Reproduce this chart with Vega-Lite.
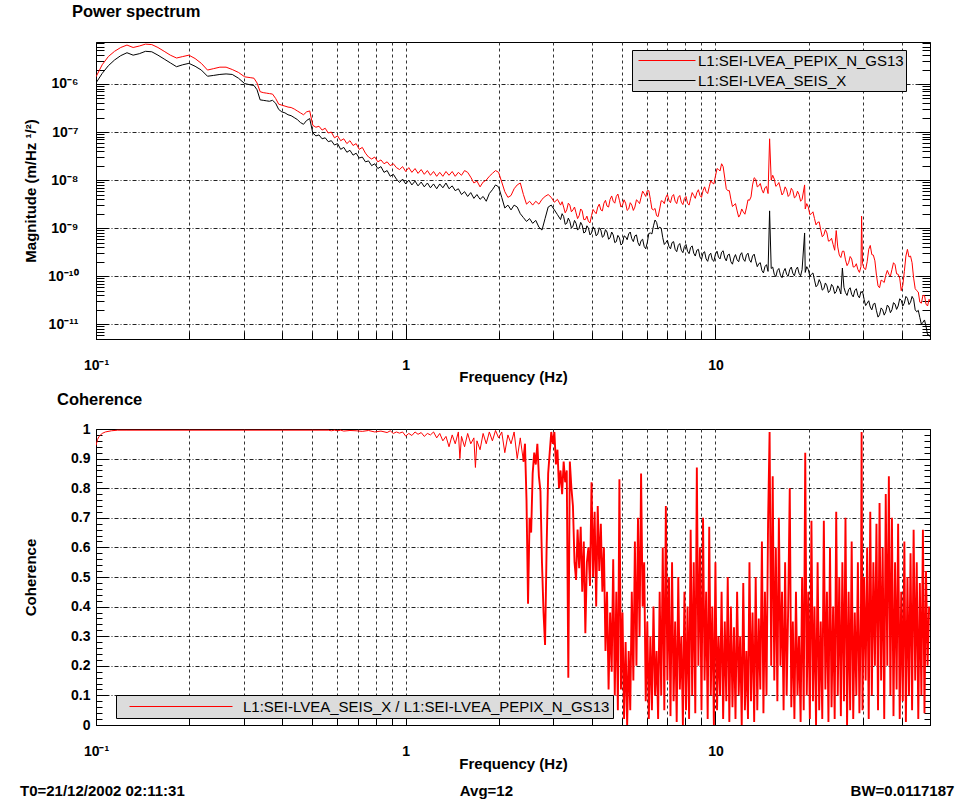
{
"$schema": "https://vega.github.io/schema/vega-lite/v6.json",
"background": "white",
"padding": {"left": 20, "top": 3, "right": 2, "bottom": 2},
"config": {
  "font": "Liberation Sans",
  "view": {"stroke": "#000000", "strokeWidth": 1},
  "axis": {"labelFont": "Liberation Sans", "labelFontSize": 14, "labelFontWeight": "bold", "labelColor": "#000000",
           "titleFont": "Liberation Sans", "titleFontSize": 15, "titleFontWeight": "bold", "titleColor": "#000000",
           "domainColor": "#000000", "domainWidth": 1, "tickColor": "#000000", "tickWidth": 1,
           "labelOverlap": false, "labelFlush": false, "labelBound": false, "zindex": 1},
  "legend": {"labelFont": "Liberation Sans", "labelFontSize": 15, "labelColor": "#000000", "labelLimit": 500,
             "fillColor": "#dcdcdc", "strokeColor": "#000000", "symbolStrokeWidth": 1},
  "title": {"font": "Liberation Sans", "fontWeight": "bold", "color": "#000000"}
},
"title": {"text": "T0=21/12/2002 02:11:31\u00a0\u00a0\u00a0\u00a0\u00a0\u00a0\u00a0\u00a0\u00a0\u00a0\u00a0\u00a0\u00a0\u00a0\u00a0\u00a0\u00a0\u00a0\u00a0\u00a0\u00a0\u00a0\u00a0\u00a0\u00a0\u00a0\u00a0\u00a0\u00a0\u00a0\u00a0\u00a0\u00a0\u00a0\u00a0\u00a0\u00a0\u00a0\u00a0\u00a0\u00a0\u00a0\u00a0\u00a0\u00a0\u00a0\u00a0\u00a0\u00a0\u00a0\u00a0\u00a0\u00a0\u00a0\u00a0\u00a0\u00a0\u00a0\u00a0\u00a0\u00a0\u00a0\u00a0\u00a0\u00a0\u00a0Avg=12\u00a0\u00a0\u00a0\u00a0\u00a0\u00a0\u00a0\u00a0\u00a0\u00a0\u00a0\u00a0\u00a0\u00a0\u00a0\u00a0\u00a0\u00a0\u00a0\u00a0\u00a0\u00a0\u00a0\u00a0\u00a0\u00a0\u00a0\u00a0\u00a0\u00a0\u00a0\u00a0\u00a0\u00a0\u00a0\u00a0\u00a0\u00a0\u00a0\u00a0\u00a0\u00a0\u00a0\u00a0\u00a0\u00a0\u00a0\u00a0\u00a0\u00a0\u00a0\u00a0\u00a0\u00a0\u00a0\u00a0\u00a0\u00a0\u00a0\u00a0\u00a0\u00a0\u00a0\u00a0\u00a0\u00a0\u00a0\u00a0\u00a0\u00a0\u00a0\u00a0\u00a0\u00a0\u00a0\u00a0\u00a0\u00a0\u00a0\u00a0\u00a0BW=0.0117187",
  "orient": "bottom", "anchor": "start", "frame": "group", "dx": -76, "offset": 24, "fontSize": 15, "baseline": "alphabetic"},
"spacing": 90,
"bounds": "flush",
"resolve": {"scale": {"color": "independent"}, "legend": {"color": "independent"}},
"vconcat": [
{
  "width": 834, "height": 297,
  "title": {"text": "Power spectrum", "anchor": "start", "frame": "group", "dx": -24, "offset": 2.7, "fontSize": 16.5, "baseline": "alphabetic"},
  "data": {"values": [
{"f":0.1,"b":1.05e-6,"r":1.41e-6},{"f":0.1047,"b":1.66e-6,"r":2.51e-6},{"f":0.1096,"b":2.40e-6,"r":3.72e-6},{"f":0.1148,"b":3.16e-6,"r":4.79e-6},
{"f":0.1202,"b":3.89e-6,"r":5.75e-6},{"f":0.1259,"b":4.47e-6,"r":6.46e-6},{"f":0.1318,"b":3.98e-6,"r":5.75e-6},{"f":0.138,"b":4.27e-6,"r":6.17e-6},
{"f":0.1445,"b":4.79e-6,"r":6.76e-6},{"f":0.1514,"b":4.68e-6,"r":6.61e-6},{"f":0.1585,"b":3.98e-6,"r":5.75e-6},{"f":0.166,"b":3.31e-6,"r":4.79e-6},
{"f":0.1738,"b":2.75e-6,"r":3.98e-6},{"f":0.182,"b":2.29e-6,"r":3.47e-6},{"f":0.1905,"b":2.51e-6,"r":3.72e-6},{"f":0.1995,"b":2.69e-6,"r":3.98e-6},
{"f":0.2089,"b":2.34e-6,"r":3.39e-6},{"f":0.2188,"b":1.95e-6,"r":2.69e-6},{"f":0.2291,"b":1.45e-6,"r":1.95e-6},{"f":0.2399,"b":1.51e-6,"r":2.09e-6},
{"f":0.2512,"b":1.58e-6,"r":2.24e-6},{"f":0.263,"b":1.62e-6,"r":2.24e-6},{"f":0.2754,"b":1.58e-6,"r":2.0e-6},{"f":0.2884,"b":1.32e-6,"r":1.74e-6},
{"f":0.302,"b":1.02e-6,"r":1.41e-6},{"f":0.3162,"b":9.55e-7,"r":1.35e-6},{"f":0.3236,"b":9.33e-7,"r":1.32e-6},{"f":0.3311,"b":7.59e-7,"r":1.05e-6},
{"f":0.3388,"b":4.68e-7,"r":6.92e-7},{"f":0.3467,"b":4.57e-7,"r":6.61e-7},{"f":0.3548,"b":4.47e-7,"r":6.46e-7},{"f":0.3631,"b":4.37e-7,"r":6.31e-7},
{"f":0.3715,"b":4.57e-7,"r":6.17e-7},{"f":0.3802,"b":3.98e-7,"r":5.01e-7},{"f":0.389,"b":2.95e-7,"r":3.80e-7},{"f":0.3981,"b":2.63e-7,"r":3.63e-7},
{"f":0.4074,"b":2.51e-7,"r":3.47e-7},{"f":0.4169,"b":2.29e-7,"r":3.31e-7},{"f":0.4266,"b":2.19e-7,"r":3.24e-7},{"f":0.4365,"b":2.0e-7,"r":3.02e-7},
{"f":0.4467,"b":1.82e-7,"r":2.75e-7},{"f":0.4571,"b":1.58e-7,"r":2.51e-7},{"f":0.4677,"b":1.45e-7,"r":2.29e-7},{"f":0.4786,"b":1.74e-7,"r":2.63e-7},
{"f":0.4898,"b":1.91e-7,"r":2.75e-7},{"f":0.5012,"b":9.55e-8,"r":1.38e-7},{"f":0.5129,"b":8.32e-8,"r":1.26e-7},{"f":0.5248,"b":8.71e-8,"r":1.32e-7},
{"f":0.537,"b":7.24e-8,"r":1.10e-7},{"f":0.5495,"b":7.59e-8,"r":1.20e-7},{"f":0.5623,"b":6.31e-8,"r":9.55e-8},{"f":0.5754,"b":6.61e-8,"r":1.0e-7},
{"f":0.5888,"b":5.37e-8,"r":7.59e-8},{"f":0.6026,"b":5.75e-8,"r":8.32e-8},{"f":0.6166,"b":4.37e-8,"r":6.61e-8},{"f":0.631,"b":4.79e-8,"r":7.24e-8},
{"f":0.6457,"b":3.80e-8,"r":5.75e-8},{"f":0.6607,"b":4.17e-8,"r":6.61e-8},{"f":0.6761,"b":3.31e-8,"r":5.25e-8},{"f":0.6918,"b":3.63e-8,"r":5.75e-8},
{"f":0.7079,"b":2.88e-8,"r":4.37e-8},{"f":0.7244,"b":3.02e-8,"r":4.79e-8},{"f":0.7413,"b":2.40e-8,"r":3.63e-8},{"f":0.7586,"b":2.51e-8,"r":3.02e-8},
{"f":0.7762,"b":2.0e-8,"r":2.75e-8},{"f":0.7943,"b":2.19e-8,"r":3.02e-8},{"f":0.8128,"b":1.74e-8,"r":2.40e-8},{"f":0.8318,"b":1.91e-8,"r":2.63e-8},
{"f":0.8511,"b":1.45e-8,"r":2.19e-8},{"f":0.871,"b":1.58e-8,"r":2.40e-8},{"f":0.8913,"b":1.20e-8,"r":2.0e-8},{"f":0.912,"b":1.32e-8,"r":2.19e-8},
{"f":0.9333,"b":1.05e-8,"r":1.82e-8},{"f":0.955,"b":8.91e-9,"r":1.66e-8},{"f":0.9772,"b":1.05e-8,"r":1.91e-8},{"f":1.0,"b":8.32e-9,"r":1.51e-8},
{"f":1.023,"b":1.0e-8,"r":1.82e-8},{"f":1.047,"b":7.94e-9,"r":1.45e-8},{"f":1.072,"b":9.55e-9,"r":1.74e-8},{"f":1.096,"b":7.59e-9,"r":1.38e-8},
{"f":1.122,"b":9.12e-9,"r":1.66e-8},{"f":1.148,"b":7.24e-9,"r":1.32e-8},{"f":1.175,"b":8.71e-9,"r":1.58e-8},{"f":1.202,"b":6.92e-9,"r":1.26e-8},
{"f":1.23,"b":8.32e-9,"r":1.51e-8},{"f":1.259,"b":6.61e-9,"r":1.20e-8},{"f":1.288,"b":8.32e-9,"r":1.45e-8},{"f":1.318,"b":6.92e-9,"r":1.20e-8},
{"f":1.349,"b":8.71e-9,"r":1.51e-8},{"f":1.38,"b":6.61e-9,"r":1.26e-8},{"f":1.413,"b":7.59e-9,"r":1.51e-8},{"f":1.445,"b":6.03e-9,"r":1.20e-8},
{"f":1.479,"b":6.61e-9,"r":1.45e-8},{"f":1.514,"b":5.01e-9,"r":1.26e-8},{"f":1.549,"b":5.75e-9,"r":1.58e-8},{"f":1.585,"b":4.57e-9,"r":1.45e-8},
{"f":1.622,"b":5.50e-9,"r":1.15e-8},{"f":1.66,"b":4.17e-9,"r":8.71e-9},{"f":1.698,"b":5.01e-9,"r":9.55e-9},{"f":1.738,"b":3.98e-9,"r":7.24e-9},
{"f":1.778,"b":4.57e-9,"r":9.12e-9},{"f":1.82,"b":3.63e-9,"r":1.0e-8},{"f":1.862,"b":5.25e-9,"r":1.20e-8},{"f":1.905,"b":6.31e-9,"r":1.38e-8},
{"f":1.95,"b":7.94e-9,"r":1.58e-8},{"f":1.995,"b":7.24e-9,"r":1.45e-8},{"f":2.042,"b":4.37e-9,"r":9.12e-9},{"f":2.089,"b":2.63e-9,"r":5.75e-9},
{"f":2.138,"b":3.02e-9,"r":4.37e-9},{"f":2.188,"b":2.40e-9,"r":4.79e-9},{"f":2.239,"b":3.02e-9,"r":6.61e-9},{"f":2.291,"b":2.75e-9,"r":7.94e-9},
{"f":2.344,"b":2.0e-9,"r":8.71e-9},{"f":2.399,"b":1.66e-9,"r":5.01e-9},{"f":2.455,"b":1.38e-9,"r":3.16e-9},{"f":2.512,"b":1.58e-9,"r":3.63e-9},
{"f":2.57,"b":1.26e-9,"r":3.02e-9},{"f":2.63,"b":1.45e-9,"r":3.63e-9},{"f":2.692,"b":1.05e-9,"r":3.16e-9},{"f":2.754,"b":9.12e-10,"r":3.98e-9},
{"f":2.818,"b":1.58e-9,"r":4.57e-9},{"f":2.884,"b":2.75e-9,"r":5.01e-9},{"f":2.951,"b":3.02e-9,"r":4.37e-9},{"f":3.02,"b":2.40e-9,"r":3.47e-9},
{"f":3.09,"b":1.91e-9,"r":3.98e-9},{"f":3.162,"b":1.51e-9,"r":3.02e-9},{"f":3.236,"b":1.74e-9,"r":2.75e-9},{"f":3.311,"b":1.26e-9,"r":2.40e-9},
{"f":3.388,"b":1.38e-9,"r":3.02e-9},{"f":3.467,"b":1.10e-9,"r":2.40e-9},{"f":3.548,"b":1.26e-9,"r":2.09e-9},{"f":3.631,"b":1.0e-9,"r":1.82e-9},
{"f":3.715,"b":1.15e-9,"r":2.29e-9},{"f":3.802,"b":8.32e-10,"r":1.51e-9},{"f":3.89,"b":1.0e-9,"r":1.38e-9},{"f":3.981,"b":7.94e-10,"r":1.82e-9},
{"f":4.074,"b":9.55e-10,"r":2.19e-9},{"f":4.169,"b":7.59e-10,"r":2.75e-9},{"f":4.266,"b":9.12e-10,"r":2.40e-9},{"f":4.365,"b":6.92e-10,"r":3.31e-9},
{"f":4.467,"b":8.32e-10,"r":2.88e-9},{"f":4.571,"b":6.31e-10,"r":3.98e-9},{"f":4.677,"b":7.24e-10,"r":3.63e-9},{"f":4.786,"b":5.25e-10,"r":4.57e-9},
{"f":4.898,"b":6.31e-10,"r":3.80e-9},{"f":5.012,"b":4.79e-10,"r":3.02e-9},{"f":5.129,"b":6.61e-10,"r":3.31e-9},{"f":5.248,"b":7.59e-10,"r":2.51e-9},
{"f":5.37,"b":6.03e-10,"r":3.02e-9},{"f":5.495,"b":6.92e-10,"r":2.75e-9},{"f":5.623,"b":5.01e-10,"r":3.63e-9},{"f":5.754,"b":5.50e-10,"r":4.37e-9},
{"f":5.888,"b":4.17e-10,"r":5.25e-9},{"f":6.026,"b":5.01e-10,"r":6.03e-9},{"f":6.166,"b":7.94e-10,"r":3.98e-9},{"f":6.31,"b":1.12e-9,"r":2.40e-9},
{"f":6.457,"b":1.32e-9,"r":1.82e-9},{"f":6.607,"b":1.05e-9,"r":2.51e-9},{"f":6.761,"b":6.31e-10,"r":3.63e-9},{"f":6.918,"b":5.01e-10,"r":4.37e-9},
{"f":7.079,"b":4.17e-10,"r":3.80e-9},{"f":7.244,"b":5.01e-10,"r":4.57e-9},{"f":7.413,"b":3.63e-10,"r":3.63e-9},{"f":7.586,"b":4.37e-10,"r":4.37e-9},
{"f":7.762,"b":3.47e-10,"r":3.47e-9},{"f":7.943,"b":4.17e-10,"r":4.17e-9},{"f":8.128,"b":3.31e-10,"r":3.31e-9},{"f":8.318,"b":3.98e-10,"r":4.17e-9},
{"f":8.511,"b":3.02e-10,"r":4.79e-9},{"f":8.71,"b":3.47e-10,"r":5.50e-9},{"f":8.913,"b":2.51e-10,"r":4.79e-9},{"f":9.12,"b":3.02e-10,"r":6.03e-9},
{"f":9.333,"b":2.29e-10,"r":5.75e-9},{"f":9.55,"b":2.75e-10,"r":7.24e-9},{"f":9.772,"b":2.19e-10,"r":8.71e-9},{"f":10.0,"b":2.88e-10,"r":1.20e-8},
{"f":10.23,"b":2.51e-10,"r":1.66e-8},{"f":10.47,"b":3.16e-10,"r":2.19e-8},{"f":10.72,"b":2.40e-10,"r":1.10e-8},{"f":10.96,"b":2.75e-10,"r":6.03e-9},
{"f":11.22,"b":2.0e-10,"r":3.98e-9},{"f":11.48,"b":2.40e-10,"r":3.02e-9},{"f":11.75,"b":2.19e-10,"r":2.29e-9},{"f":12.02,"b":2.75e-10,"r":1.91e-9},
{"f":12.3,"b":2.29e-10,"r":2.19e-9},{"f":12.59,"b":2.75e-10,"r":2.63e-9},{"f":12.88,"b":2.19e-10,"r":3.80e-9},{"f":13.18,"b":2.63e-10,"r":7.94e-9},
{"f":13.49,"b":2.09e-10,"r":1.05e-8},{"f":13.8,"b":1.82e-10,"r":7.59e-9},{"f":14.13,"b":1.32e-10,"r":6.31e-9},{"f":14.45,"b":1.58e-10,"r":6.92e-9},
{"f":14.79,"b":1.26e-10,"r":5.25e-9},{"f":14.96,"b":2.29e-9,"r":7.24e-8},{"f":15.14,"b":1.45e-10,"r":1.0e-8},{"f":15.49,"b":1.10e-10,"r":1.05e-8},
{"f":15.85,"b":1.32e-10,"r":7.94e-9},{"f":16.22,"b":1.05e-10,"r":6.61e-9},{"f":16.6,"b":1.26e-10,"r":5.50e-9},{"f":16.98,"b":1.10e-10,"r":6.31e-9},
{"f":17.38,"b":1.38e-10,"r":5.01e-9},{"f":17.78,"b":1.15e-10,"r":6.03e-9},{"f":18.2,"b":1.38e-10,"r":4.57e-9},{"f":18.62,"b":1.15e-10,"r":5.01e-9},
{"f":19.05,"b":1.38e-10,"r":3.98e-9},{"f":19.41,"b":7.94e-10,"r":7.94e-9},{"f":19.5,"b":1.20e-10,"r":2.51e-9},{"f":19.95,"b":1.38e-10,"r":2.75e-9},
{"f":20.42,"b":1.10e-10,"r":2.0e-9},{"f":20.89,"b":8.32e-11,"r":1.58e-9},{"f":21.38,"b":6.61e-11,"r":1.32e-9},{"f":21.88,"b":7.24e-11,"r":9.12e-10},
{"f":22.39,"b":5.50e-11,"r":7.24e-10},{"f":22.91,"b":6.31e-11,"r":7.94e-10},{"f":23.44,"b":5.01e-11,"r":5.50e-10},{"f":23.99,"b":6.03e-11,"r":4.57e-10},
{"f":24.55,"b":4.79e-11,"r":8.91e-10},{"f":25.12,"b":5.50e-11,"r":2.75e-10},{"f":25.7,"b":1.48e-10,"r":3.31e-10},{"f":26.3,"b":4.57e-11,"r":2.19e-10},
{"f":26.92,"b":5.25e-11,"r":1.91e-10},{"f":27.54,"b":4.17e-11,"r":2.29e-10},{"f":28.18,"b":5.01e-11,"r":1.58e-10},{"f":28.84,"b":3.98e-11,"r":1.38e-10},
{"f":29.51,"b":4.79e-11,"r":1.58e-10},{"f":29.65,"b":4.57e-11,"r":1.78e-9},{"f":30.2,"b":3.31e-11,"r":1.45e-10},{"f":30.9,"b":2.75e-11,"r":2.0e-10},
{"f":31.62,"b":2.29e-11,"r":4.37e-10},{"f":32.36,"b":2.63e-11,"r":2.75e-10},{"f":33.11,"b":1.91e-11,"r":1.05e-10},{"f":33.88,"b":1.58e-11,"r":5.75e-11},
{"f":34.67,"b":2.0e-11,"r":7.94e-11},{"f":35.48,"b":1.82e-11,"r":1.05e-10},{"f":36.31,"b":2.29e-11,"r":1.10e-10},{"f":37.15,"b":2.0e-11,"r":1.38e-10},
{"f":38.02,"b":2.63e-11,"r":1.74e-10},{"f":38.9,"b":2.40e-11,"r":1.10e-10},{"f":39.81,"b":3.16e-11,"r":5.01e-11},{"f":40.74,"b":2.75e-11,"r":1.26e-10},
{"f":41.69,"b":3.47e-11,"r":3.63e-10},{"f":42.66,"b":2.88e-11,"r":2.63e-10},{"f":43.65,"b":3.31e-11,"r":9.12e-11},{"f":44.67,"b":1.82e-11,"r":5.01e-11},
{"f":45.71,"b":1.38e-11,"r":2.88e-11},{"f":46.77,"b":1.10e-11,"r":3.98e-11},{"f":47.86,"b":9.12e-12,"r":2.63e-11},{"f":48.98,"b":6.03e-12,"r":3.31e-11},
{"f":49.3,"b":5.5e-12,"r":3.0e-11},
{"f":3.199,"b":2.00e-9,"r":3.55e-9},{"f":3.273,"b":1.20e-9,"r":2.09e-9},{"f":3.35,"b":1.62e-9,"r":3.31e-9},{"f":3.428,"b":1.00e-9,"r":2.19e-9},
{"f":3.508,"b":1.45e-9,"r":2.75e-9},{"f":3.589,"b":9.12e-10,"r":1.58e-9},{"f":3.673,"b":1.32e-9,"r":2.51e-9},{"f":3.758,"b":7.94e-10,"r":1.51e-9},
{"f":3.846,"b":1.12e-9,"r":1.78e-9},{"f":3.936,"b":7.24e-10,"r":1.29e-9},{"f":4.027,"b":1.07e-9,"r":2.45e-9},{"f":4.121,"b":6.92e-10,"r":2.00e-9},
{"f":4.217,"b":1.02e-9,"r":3.16e-9},{"f":4.315,"b":6.46e-10,"r":2.29e-9},{"f":4.416,"b":9.33e-10,"r":3.80e-9},{"f":4.519,"b":5.89e-10,"r":2.75e-9},
{"f":4.624,"b":8.32e-10,"r":4.68e-9},{"f":4.732,"b":5.01e-10,"r":3.31e-9},{"f":4.842,"b":7.08e-10,"r":5.13e-9},{"f":4.955,"b":4.47e-10,"r":2.75e-9},
{"f":5.07,"b":6.92e-10,"r":3.89e-9},{"f":5.188,"b":5.75e-10,"r":2.34e-9},{"f":5.309,"b":8.32e-10,"r":3.39e-9},{"f":5.433,"b":5.25e-10,"r":2.34e-9},
{"f":5.559,"b":7.24e-10,"r":3.89e-9},{"f":5.689,"b":4.27e-10,"r":3.24e-9},{"f":5.821,"b":5.89e-10,"r":5.89e-9},{"f":5.957,"b":3.72e-10,"r":4.57e-9},
{"f":6.095,"b":7.76e-10,"r":6.03e-9},{"f":6.237,"b":7.59e-10,"r":2.51e-9},{"f":6.383,"b":1.48e-9,"r":2.57e-9},{"f":6.531,"b":9.55e-10,"r":1.74e-9},
{"f":6.683,"b":1.00e-9,"r":3.72e-9},{"f":6.839,"b":4.57e-10,"r":3.24e-9},{"f":6.998,"b":5.62e-10,"r":5.01e-9},{"f":7.161,"b":3.72e-10,"r":3.39e-9},
{"f":7.328,"b":5.25e-10,"r":5.01e-9},{"f":7.499,"b":3.24e-10,"r":3.24e-9},{"f":7.674,"b":4.79e-10,"r":4.79e-9},{"f":7.852,"b":3.09e-10,"r":3.09e-9},
{"f":8.035,"b":4.57e-10,"r":4.57e-9},{"f":8.222,"b":2.95e-10,"r":3.02e-9},{"f":8.414,"b":4.27e-10,"r":5.50e-9},{"f":8.61,"b":2.63e-10,"r":4.17e-9},
{"f":8.81,"b":3.63e-10,"r":6.31e-9},{"f":9.016,"b":2.24e-10,"r":4.37e-9},{"f":9.226,"b":3.24e-10,"r":7.24e-9},{"f":9.441,"b":2.04e-10,"r":5.25e-9},
{"f":9.661,"b":3.02e-10,"r":9.77e-9},{"f":9.886,"b":2.04e-10,"r":8.32e-9},{"f":10.12,"b":3.31e-10,"r":1.74e-8},{"f":10.35,"b":2.29e-10,"r":1.55e-8},
{"f":10.59,"b":3.39e-10,"r":1.91e-8},{"f":10.84,"b":2.09e-10,"r":6.61e-9},{"f":11.09,"b":2.88e-10,"r":6.03e-9},{"f":11.35,"b":1.78e-10,"r":2.82e-9},
{"f":11.61,"b":2.82e-10,"r":3.24e-9},{"f":11.89,"b":2.00e-10,"r":1.70e-9},{"f":12.16,"b":3.09e-10,"r":2.51e-9},{"f":12.45,"b":2.04e-10,"r":1.95e-9},
{"f":12.74,"b":3.02e-10,"r":3.89e-9},{"f":13.03,"b":1.95e-10,"r":4.47e-9},{"f":13.34,"b":2.88e-10,"r":1.12e-8},{"f":13.65,"b":1.58e-10,"r":7.24e-9},
{"f":13.96,"b":1.91e-10,"r":8.51e-9},{"f":14.29,"b":1.17e-10,"r":5.37e-9},{"f":14.62,"b":1.74e-10,"r":7.41e-9},{"f":15.31,"b":1.55e-10,"r":1.26e-8},
{"f":15.67,"b":9.77e-11,"r":7.41e-9},{"f":16.03,"b":1.45e-10,"r":8.91e-9},{"f":16.41,"b":9.33e-11,"r":4.90e-9},{"f":16.79,"b":1.45e-10,"r":7.24e-9},
{"f":17.18,"b":1.00e-10,"r":4.57e-9},{"f":17.58,"b":1.55e-10,"r":6.76e-9},{"f":17.99,"b":1.02e-10,"r":4.27e-9},{"f":18.41,"b":1.55e-10,"r":5.89e-9},
{"f":18.84,"b":1.02e-10,"r":3.63e-9},{"f":19.72,"b":1.58e-10,"r":3.24e-9},{"f":20.18,"b":1.00e-10,"r":1.91e-9},{"f":20.65,"b":1.17e-10,"r":2.19e-9},
{"f":21.13,"b":6.03e-11,"r":1.17e-9},{"f":21.63,"b":8.51e-11,"r":1.35e-9},{"f":22.13,"b":5.13e-11,"r":6.61e-10},{"f":22.65,"b":7.24e-11,"r":9.33e-10},
{"f":23.17,"b":4.57e-11,"r":5.37e-10},{"f":23.71,"b":6.76e-11,"r":6.17e-10},{"f":24.27,"b":4.37e-11,"r":3.47e-10},{"f":24.83,"b":6.31e-11,"r":4.07e-10},
{"f":25.41,"b":4.27e-11,"r":2.45e-10},{"f":26.0,"b":5.89e-11,"r":3.31e-10},{"f":26.61,"b":3.98e-11,"r":1.66e-10},{"f":27.23,"b":5.75e-11,"r":2.57e-10},
{"f":27.86,"b":3.72e-11,"r":1.55e-10},{"f":28.51,"b":5.50e-11,"r":1.82e-10},{"f":29.17,"b":3.55e-11,"r":1.20e-10},{"f":29.85,"b":4.90e-11,"r":1.86e-10},
{"f":30.55,"b":2.45e-11,"r":1.38e-10},{"f":31.26,"b":3.09e-11,"r":3.63e-10},{"f":31.99,"b":2.00e-11,"r":2.82e-10},{"f":32.73,"b":2.75e-11,"r":2.09e-10},
{"f":33.5,"b":1.41e-11,"r":6.31e-11},{"f":34.28,"b":2.19e-11,"r":8.32e-11},{"f":35.08,"b":1.55e-11,"r":7.41e-11},{"f":35.89,"b":2.51e-11,"r":1.32e-10},
{"f":36.73,"b":1.74e-11,"r":1.00e-10},{"f":37.58,"b":2.82e-11,"r":1.91e-10},{"f":38.46,"b":2.04e-11,"r":1.12e-10},{"f":39.36,"b":3.39e-11,"r":9.12e-11},
{"f":40.27,"b":2.40e-11,"r":6.46e-11},{"f":41.21,"b":3.80e-11,"r":2.63e-10},{"f":42.17,"b":2.57e-11,"r":2.51e-10},{"f":43.15,"b":3.80e-11,"r":1.91e-10},
{"f":44.16,"b":2.00e-11,"r":5.50e-11},{"f":45.19,"b":1.95e-11,"r":4.68e-11},{"f":46.24,"b":1.00e-11,"r":2.75e-11},{"f":47.32,"b":1.23e-11,"r":3.98e-11},
{"f":48.42,"b":6.03e-12,"r":2.40e-11}
  ]},
  "transform": [{"fold": ["r", "b"], "as": ["s", "v"]}],
  "encoding": {
    "x": {"field": "f", "type": "quantitative", "scale": {"type": "log", "domain": [0.1, 49.3], "nice": false},
      "axis": {"title": "Frequency (Hz)", "titleY": 30.5, "values": [0.1,0.2,0.3,0.4,0.5,0.6,0.7,0.8,0.9,1,2,3,4,5,6,7,8,9,10,20,30,40],
        "labelExpr": "datum.value==0.1?'10⁻¹':datum.value==1?'1':datum.value==10?'10':''",
        "tickSize": {"condition": {"test": "datum.value==0.1||datum.value==1||datum.value==10", "value": -14}, "value": -7},
        "labelPadding": 33.6, "grid": true, "gridDash": [3,3], "gridColor": "#333333"}}
  },
  "layer": [
    {"mark": {"type": "line", "strokeWidth": 1, "clip": true},
     "encoding": {
       "y": {"field": "v", "type": "quantitative", "scale": {"type": "log", "domain": [4.94e-12, 7.48e-6], "nice": false},
         "axis": {"orient": "left", "title": "Magnitude (m/Hz ¹/²)", "titleX": -58,
           "values": [5e-12,6e-12,7e-12,8e-12,9e-12,1e-11,2e-11,3e-11,4e-11,5e-11,6e-11,7e-11,8e-11,9e-11,1e-10,2e-10,3e-10,4e-10,5e-10,6e-10,7e-10,8e-10,9e-10,1e-9,2e-9,3e-9,4e-9,5e-9,6e-9,7e-9,8e-9,9e-9,1e-8,2e-8,3e-8,4e-8,5e-8,6e-8,7e-8,8e-8,9e-8,1e-7,2e-7,3e-7,4e-7,5e-7,6e-7,7e-7,8e-7,9e-7,1e-6,2e-6,3e-6,4e-6,5e-6,6e-6,7e-6],
           "labelExpr": "abs(log(datum.value)/LN10+6)<0.01?'10⁻⁶':abs(log(datum.value)/LN10+7)<0.01?'10⁻⁷':abs(log(datum.value)/LN10+8)<0.01?'10⁻⁸':abs(log(datum.value)/LN10+9)<0.01?'10⁻⁹':abs(log(datum.value)/LN10+10)<0.01?'10⁻¹⁰':abs(log(datum.value)/LN10+11)<0.01?'10⁻¹¹':''",
           "tickSize": {"condition": {"test": "abs(log(datum.value)/LN10-round(log(datum.value)/LN10))<0.01", "value": -12}, "value": -8},
           "labelPadding": 30, "grid": true, "gridDash": [4,2,1,2], "gridColor": "#222222",
           "gridOpacity": {"condition": {"test": "abs(log(datum.value)/LN10-round(log(datum.value)/LN10))<0.01", "value": 1}, "value": 0}}},
       "color": {"field": "s", "type": "nominal",
         "scale": {"domain": ["r", "b"], "range": ["#ff0000", "#000000"]},
         "legend": {"title": null, "orient": "none", "legendX": 536, "legendY": 8, "padding": 2, "symbolType": "stroke", "symbolSize": 3249,
           "symbolOffset": 4, "labelOffset": 2, "rowPadding": 3, "clipHeight": 17,
           "labelExpr": "datum.value == 'r' ? 'L1:SEI-LVEA_PEPIX_N_GS13' : 'L1:SEI-LVEA_SEIS_X'"}}
     }},
    {"mark": {"type": "rule", "opacity": 0},
     "encoding": {
       "y": {"field": "v", "type": "quantitative",
         "axis": {"orient": "right", "title": null, "labels": false, "grid": false,
           "values": [5e-12,6e-12,7e-12,8e-12,9e-12,1e-11,2e-11,3e-11,4e-11,5e-11,6e-11,7e-11,8e-11,9e-11,1e-10,2e-10,3e-10,4e-10,5e-10,6e-10,7e-10,8e-10,9e-10,1e-9,2e-9,3e-9,4e-9,5e-9,6e-9,7e-9,8e-9,9e-9,1e-8,2e-8,3e-8,4e-8,5e-8,6e-8,7e-8,8e-8,9e-8,1e-7,2e-7,3e-7,4e-7,5e-7,6e-7,7e-7,8e-7,9e-7,1e-6,2e-6,3e-6,4e-6,5e-6,6e-6,7e-6],
           "tickSize": {"condition": {"test": "abs(log(datum.value)/LN10-round(log(datum.value)/LN10))<0.01", "value": -12}, "value": -8}}}
     }}
  ]
},
{
  "width": 834, "height": 296,
  "title": {"text": "Coherence", "anchor": "start", "frame": "group", "dx": -39, "offset": 1, "fontSize": 16.5, "baseline": "alphabetic"},
  "data": {"values": [
{"f":0.1,"c":0.944},{"f":0.1012,"c":0.965},{"f":0.1023,"c":0.975},{"f":0.1047,"c":0.985},{"f":0.1072,"c":0.99},{"f":0.1122,"c":0.994},{"f":0.1175,"c":0.996},{"f":0.1259,"c":0.996},
{"f":0.5623,"c":0.996},{"f":0.5754,"c":0.994},{"f":0.5888,"c":0.996},{"f":0.6026,"c":0.994},{"f":0.6166,"c":0.996},{"f":0.631,"c":0.993},{"f":0.6607,"c":0.995},{"f":0.6918,"c":0.994},
{"f":0.7244,"c":0.992},{"f":0.7586,"c":0.995},{"f":0.7943,"c":0.99},{"f":0.8318,"c":0.993},{"f":0.871,"c":0.988},{"f":0.8913,"c":0.994},{"f":0.912,"c":0.985},{"f":0.9333,"c":0.99},
{"f":0.955,"c":0.986},{"f":0.9772,"c":0.99},{"f":1.0,"c":0.976},{"f":1.023,"c":0.985},{"f":1.047,"c":0.978},{"f":1.072,"c":0.99},{"f":1.096,"c":0.982},{"f":1.122,"c":0.988},
{"f":1.148,"c":0.975},{"f":1.175,"c":0.985},{"f":1.202,"c":0.98},{"f":1.23,"c":0.99},{"f":1.259,"c":0.97},{"f":1.288,"c":0.985},{"f":1.318,"c":0.96},{"f":1.349,"c":0.975},
{"f":1.38,"c":0.94},{"f":1.413,"c":0.98},{"f":1.445,"c":0.95},{"f":1.479,"c":0.99},{"f":1.496,"c":0.90},{"f":1.514,"c":0.975},{"f":1.549,"c":0.94},{"f":1.585,"c":0.985},
{"f":1.622,"c":0.95},{"f":1.66,"c":0.97},{"f":1.679,"c":0.87},{"f":1.698,"c":0.96},{"f":1.738,"c":0.93},{"f":1.778,"c":0.985},{"f":1.82,"c":0.95},{"f":1.862,"c":0.99},
{"f":1.905,"c":0.96},{"f":1.95,"c":0.995},{"f":1.995,"c":0.97},{"f":2.042,"c":0.99},{"f":2.089,"c":0.92},{"f":2.138,"c":0.98},{"f":2.188,"c":0.95},{"f":2.239,"c":0.99},
{"f":2.291,"c":0.9},{"f":2.344,"c":0.97},{"f":2.399,"c":0.89},
{"f":2.427,"c":0.95},{"f":2.455,"c":0.76},{"f":2.483,"c":0.41},{"f":2.512,"c":0.70},{"f":2.541,"c":0.65},{"f":2.57,"c":0.85},{"f":2.6,"c":0.92},{"f":2.63,"c":0.88},
{"f":2.661,"c":0.95},{"f":2.692,"c":0.84},{"f":2.723,"c":0.79},{"f":2.754,"c":0.55},{"f":2.786,"c":0.38},{"f":2.818,"c":0.27},{"f":2.851,"c":0.60},{"f":2.884,"c":0.85},
{"f":2.917,"c":0.92},{"f":2.951,"c":0.99},{"f":2.985,"c":0.95},{"f":3.02,"c":0.99},{"f":3.055,"c":0.88},{"f":3.09,"c":0.93},{"f":3.126,"c":0.80},{"f":3.162,"c":0.86},
{"f":3.199,"c":0.78},{"f":3.236,"c":0.89},{"f":3.273,"c":0.82},{"f":3.311,"c":0.86},{"f":3.35,"c":0.16},{"f":3.388,"c":0.89},{"f":3.428,"c":0.80},{"f":3.467,"c":0.74},
{"f":3.508,"c":0.55},{"f":3.548,"c":0.49},{"f":3.589,"c":0.66},{"f":3.631,"c":0.53},{"f":3.673,"c":0.67},{"f":3.715,"c":0.45},{"f":3.758,"c":0.62},{"f":3.802,"c":0.31},
{"f":3.846,"c":0.55},{"f":3.89,"c":0.60},{"f":3.936,"c":0.47},{"f":3.981,"c":0.82},{"f":4.027,"c":0.50},{"f":4.074,"c":0.72},{"f":4.121,"c":0.40},{"f":4.169,"c":0.74},
{"f":4.217,"c":0.52},{"f":4.266,"c":0.68},{"f":4.315,"c":0.45},{"f":4.365,"c":0.60},{"f":4.416,"c":0.25},{"f":4.467,"c":0.45},{"f":4.519,"c":0.12},{"f":4.571,"c":0.38},
{"f":4.624,"c":0.18},{"f":4.677,"c":0.56},{"f":4.732,"c":0.10},{"f":4.786,"c":0.45},{"f":4.842,"c":0.05},{"f":4.898,"c":0.83},{"f":4.955,"c":0.12},{"f":5.012,"c":0.38},
{"f":5.07,"c":0.02},{"f":5.129,"c":0.28},{"f":5.188,"c":0.0},{"f":5.248,"c":0.25},{"f":5.309,"c":0.05},{"f":5.37,"c":0.45},{"f":5.433,"c":0.15},{"f":5.495,"c":0.62},
{"f":5.559,"c":0.20},{"f":5.623,"c":0.70},{"f":5.689,"c":0.30},{"f":5.754,"c":0.85},{"f":5.821,"c":0.40},{"f":5.888,"c":0.55},{"f":5.957,"c":0.08},{"f":6.026,"c":0.35},
{"f":6.095,"c":0.02},{"f":6.166,"c":0.30},{"f":6.237,"c":0.05},{"f":6.31,"c":0.40},{"f":6.383,"c":0.10},{"f":6.457,"c":0.25},{"f":6.531,"c":0.02},{"f":6.607,"c":0.45},
{"f":6.683,"c":0.10},{"f":6.761,"c":0.60},{"f":6.839,"c":0.05},{"f":6.918,"c":0.74},{"f":6.998,"c":0.15},{"f":7.079,"c":0.50},{"f":7.161,"c":0.03},{"f":7.244,"c":0.55},
{"f":7.328,"c":0.08},{"f":7.413,"c":0.35},{"f":7.499,"c":0.01},{"f":7.586,"c":0.50},{"f":7.674,"c":0.12},{"f":7.762,"c":0.30},{"f":7.852,"c":0.0},{"f":7.943,"c":0.45},
{"f":8.035,"c":0.05},{"f":8.128,"c":0.40},{"f":8.222,"c":0.02},{"f":8.318,"c":0.66},{"f":8.414,"c":0.10},{"f":8.511,"c":0.55},{"f":8.61,"c":0.04},{"f":8.71,"c":0.87},
{"f":8.81,"c":0.20},{"f":8.913,"c":0.60},{"f":9.016,"c":0.05},{"f":9.12,"c":0.70},{"f":9.226,"c":0.15},{"f":9.333,"c":0.45},{"f":9.441,"c":0.02},{"f":9.55,"c":0.67},
{"f":9.661,"c":0.10},{"f":9.772,"c":0.40},{"f":9.886,"c":0.0},{"f":10.0,"c":0.55},{"f":10.12,"c":0.05},{"f":10.23,"c":0.30},{"f":10.35,"c":0.10},{"f":10.47,"c":0.45},
{"f":10.59,"c":0.02},{"f":10.72,"c":0.35},{"f":10.84,"c":0.08},{"f":10.96,"c":0.50},{"f":11.09,"c":0.01},{"f":11.22,"c":0.40},{"f":11.35,"c":0.06},{"f":11.48,"c":0.33},
{"f":11.61,"c":0.02},{"f":11.75,"c":0.45},{"f":11.89,"c":0.10},{"f":12.02,"c":0.30},{"f":12.16,"c":0.0},{"f":12.3,"c":0.48},{"f":12.45,"c":0.05},{"f":12.59,"c":0.25},
{"f":12.74,"c":0.02},{"f":12.88,"c":0.55},{"f":13.03,"c":0.08},{"f":13.18,"c":0.38},{"f":13.34,"c":0.01},{"f":13.49,"c":0.50},{"f":13.65,"c":0.05},{"f":13.8,"c":0.36},
{"f":13.96,"c":0.12},{"f":14.13,"c":0.62},{"f":14.29,"c":0.04},{"f":14.45,"c":0.45},{"f":14.62,"c":0.10},{"f":14.79,"c":0.68},{"f":14.96,"c":0.99},{"f":15.14,"c":0.20},
{"f":15.31,"c":0.84},{"f":15.49,"c":0.15},{"f":15.67,"c":0.60},{"f":15.85,"c":0.08},{"f":16.03,"c":0.70},{"f":16.22,"c":0.20},{"f":16.41,"c":0.45},{"f":16.6,"c":0.05},
{"f":16.79,"c":0.55},{"f":16.98,"c":0.10},{"f":17.18,"c":0.40},{"f":17.38,"c":0.80},{"f":17.58,"c":0.06},{"f":17.78,"c":0.35},{"f":17.99,"c":0.02},{"f":18.2,"c":0.45},
{"f":18.41,"c":0.10},{"f":18.62,"c":0.30},{"f":18.84,"c":0.01},{"f":19.05,"c":0.50},{"f":19.28,"c":0.05},{"f":19.5,"c":0.92},{"f":19.72,"c":0.10},{"f":19.95,"c":0.45},
{"f":20.18,"c":0.02},{"f":20.42,"c":0.69},{"f":20.65,"c":0.08},{"f":20.89,"c":0.40},{"f":21.13,"c":0.0},{"f":21.38,"c":0.55},{"f":21.63,"c":0.05},{"f":21.88,"c":0.35},
{"f":22.13,"c":0.02},{"f":22.39,"c":0.69},{"f":22.65,"c":0.12},{"f":22.91,"c":0.45},{"f":23.17,"c":0.01},{"f":23.44,"c":0.60},{"f":23.71,"c":0.06},{"f":23.99,"c":0.40},
{"f":24.27,"c":0.02},{"f":24.55,"c":0.72},{"f":24.83,"c":0.10},{"f":25.12,"c":0.50},{"f":25.41,"c":0.03},{"f":25.7,"c":0.55},{"f":26.0,"c":0.08},{"f":26.3,"c":0.70},
{"f":26.61,"c":0.0},{"f":26.92,"c":0.45},{"f":27.23,"c":0.05},{"f":27.54,"c":0.62},{"f":27.86,"c":0.02},{"f":28.18,"c":0.38},{"f":28.51,"c":0.10},{"f":28.84,"c":0.55},
{"f":29.17,"c":0.04},{"f":29.51,"c":0.40},{"f":29.65,"c":0.99},{"f":29.85,"c":0.05},{"f":30.2,"c":0.50},{"f":30.55,"c":0.15},{"f":30.9,"c":0.60},{"f":31.26,"c":0.02},
{"f":31.62,"c":0.72},{"f":31.99,"c":0.10},{"f":32.36,"c":0.55},{"f":32.73,"c":0.20},{"f":33.11,"c":0.68},{"f":33.5,"c":0.05},{"f":33.88,"c":0.75},{"f":34.28,"c":0.15},
{"f":34.67,"c":0.60},{"f":35.08,"c":0.02},{"f":35.48,"c":0.78},{"f":35.89,"c":0.20},{"f":36.31,"c":0.84},{"f":36.73,"c":0.10},{"f":37.15,"c":0.70},{"f":37.58,"c":0.03},
{"f":38.02,"c":0.55},{"f":38.46,"c":0.12},{"f":38.9,"c":0.68},{"f":39.36,"c":0.02},{"f":39.81,"c":0.45},{"f":40.27,"c":0.08},{"f":40.74,"c":0.62},{"f":41.21,"c":0.01},
{"f":41.69,"c":0.50},{"f":42.17,"c":0.10},{"f":42.66,"c":0.58},{"f":43.15,"c":0.05},{"f":43.65,"c":0.66},{"f":44.16,"c":0.15},{"f":44.67,"c":0.55},{"f":45.19,"c":0.02},
{"f":45.71,"c":0.48},{"f":46.24,"c":0.10},{"f":46.77,"c":0.66},{"f":47.32,"c":0.04},{"f":47.86,"c":0.52},{"f":48.42,"c":0.20},{"f":48.98,"c":0.40}
  ]},
  "encoding": {
    "x": {"field": "f", "type": "quantitative", "scale": {"type": "log", "domain": [0.1, 49.3], "nice": false},
      "axis": {"title": "Frequency (Hz)", "titleY": 31.5, "values": [0.1,0.2,0.3,0.4,0.5,0.6,0.7,0.8,0.9,1,2,3,4,5,6,7,8,9,10,20,30,40],
        "labelExpr": "datum.value==0.1?'10⁻¹':datum.value==1?'1':datum.value==10?'10':''",
        "tickSize": {"condition": {"test": "datum.value==0.1||datum.value==1||datum.value==10", "value": -14}, "value": -7},
        "labelPadding": 33, "grid": true, "gridDash": [3,3], "gridColor": "#333333"}}
  },
  "layer": [
    {"transform": [{"filter": "datum.f <= 2.43"}],
     "mark": {"type": "line", "strokeWidth": 1, "clip": true},
     "encoding": {
       "y": {"field": "c", "type": "quantitative", "scale": {"domain": [0, 1], "nice": false, "zero": false},
         "axis": {"orient": "left", "title": "Coherence", "titleX": -58,
           "values": [0,0.02,0.04,0.06,0.08,0.1,0.12,0.14,0.16,0.18,0.2,0.22,0.24,0.26,0.28,0.3,0.32,0.34,0.36,0.38,0.4,0.42,0.44,0.46,0.48,0.5,0.52,0.54,0.56,0.58,0.6,0.62,0.64,0.66,0.68,0.7,0.72,0.74,0.76,0.78,0.8,0.82,0.84,0.86,0.88,0.9,0.92,0.94,0.96,0.98,1],
           "format": ".1~f",
           "labelExpr": "abs(datum.value*10-round(datum.value*10))<0.001?datum.label:''",
           "tickSize": {"condition": {"test": "abs(datum.value*10-round(datum.value*10))<0.001", "value": -12}, "value": -6},
           "labelPadding": 18, "grid": true, "gridDash": [4,2,1,2], "gridColor": "#222222",
           "gridOpacity": {"condition": {"test": "abs(datum.value*10-round(datum.value*10))<0.001&&datum.value>0.05&&datum.value<0.95", "value": 1}, "value": 0}}},
       "color": {"datum": "L1:SEI-LVEA_SEIS_X / L1:SEI-LVEA_PEPIX_N_GS13",
         "scale": {"domain": ["L1:SEI-LVEA_SEIS_X / L1:SEI-LVEA_PEPIX_N_GS13"], "range": ["#ff0000"]},
         "legend": {"title": null, "orient": "none", "legendX": 20, "legendY": 266, "padding": 3, "symbolType": "stroke", "symbolSize": 10609,
           "symbolOffset": 10, "labelOffset": 10, "clipHeight": 17, "symbolStrokeColor": "#ff0000"}}
     }},
    {"transform": [{"filter": "datum.f >= 2.39"}],
     "mark": {"type": "line", "strokeWidth": 1.9, "clip": true},
     "encoding": {
       "y": {"field": "c", "type": "quantitative", "axis": null},
       "color": {"datum": "L1:SEI-LVEA_SEIS_X / L1:SEI-LVEA_PEPIX_N_GS13"}
     }},
    {"mark": {"type": "rule", "opacity": 0},
     "encoding": {
       "y": {"field": "c", "type": "quantitative",
         "axis": {"orient": "right", "title": null, "labels": false, "grid": false,
           "values": [0,0.02,0.04,0.06,0.08,0.1,0.12,0.14,0.16,0.18,0.2,0.22,0.24,0.26,0.28,0.3,0.32,0.34,0.36,0.38,0.4,0.42,0.44,0.46,0.48,0.5,0.52,0.54,0.56,0.58,0.6,0.62,0.64,0.66,0.68,0.7,0.72,0.74,0.76,0.78,0.8,0.82,0.84,0.86,0.88,0.9,0.92,0.94,0.96,0.98,1],
           "tickSize": {"condition": {"test": "abs(datum.value*10-round(datum.value*10))<0.001", "value": -12}, "value": -6}}}
     }}
  ]
}
]
}
